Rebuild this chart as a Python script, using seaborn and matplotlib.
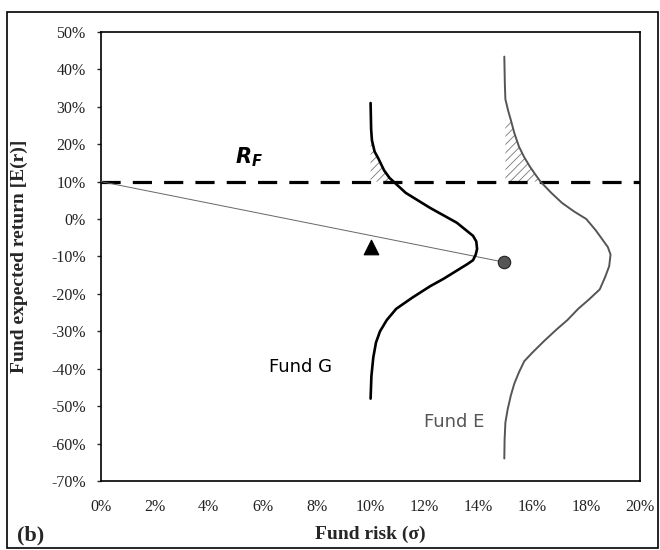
import numpy as np
import matplotlib
matplotlib.use("Agg")
import matplotlib.pyplot as plt
import matplotlib.patches as patches
import seaborn as sns
import pandas as pd

sns.set_style("white")
plt.rcParams['font.family'] = ['Liberation Serif', 'DejaVu Serif']
plt.rcParams['mathtext.fontset'] = 'custom'
plt.rcParams['mathtext.it'] = 'DejaVu Sans:italic:bold'
plt.rcParams['mathtext.rm'] = 'DejaVu Sans:bold'
plt.rcParams['hatch.linewidth'] = 0.6

#=======================================================================
#                                  Data (in %)
#=======================================================================
rf = 10.0

# Fund G distribution (return on y, risk on x)
g_ret  = [31, 24, 21, 18, 16, 13, 11, 10, 7, 3, -1, -4.5, -6, -8, -9.5, -11, -12,
          -16, -18, -21, -24, -27, -30, -33, -37, -42, -48]
g_risk = [10.0, 10.02, 10.05, 10.15, 10.3, 10.5, 10.7, 10.85, 11.3, 12.2, 13.2, 13.8,
          13.92, 13.95, 13.9, 13.8, 13.6, 12.7, 12.2, 11.55, 10.95, 10.6, 10.35, 10.2,
          10.1, 10.03, 10.0]
g_base = 10.0
g_hatch_top = 21

# Fund E distribution
e_ret  = [43.4, 36, 32, 29, 26.5, 23, 19.4, 16.5, 14.1, 12, 10, 7, 4.3, 2, 0, -3,
          -5.5, -7.5, -9.5, -12.6, -15.5, -18.8, -21.5, -24, -27, -29.5, -32.5,
          -35.7, -38, -41, -44, -47.2, -51, -54.4, -59, -64]
e_risk = [14.96, 14.98, 15.0, 15.1, 15.2, 15.33, 15.5, 15.7, 15.9, 16.1, 16.3, 16.7,
          17.1, 17.55, 18.0, 18.35, 18.6, 18.8, 18.9, 18.85, 18.7, 18.5, 18.1, 17.7,
          17.3, 16.9, 16.45, 16.0, 15.7, 15.5, 15.33, 15.2, 15.08, 15.0, 14.97, 14.96]
e_base = 15.0
e_hatch_top = 27

# line from risk-free rate to fund E point, plus markers
cal_risk = [0, 14.93]
cal_ret  = [10, -11.5]
tri_risk = [10.0]
tri_ret  = [-7.6]

y_ticks = list(range(-70, 51, 10))
x_ticks = list(range(0, 21, 2))

g_df = pd.DataFrame({'risk': g_risk, 'ret': g_ret})
e_df = pd.DataFrame({'risk': e_risk, 'ret': e_ret})

#=======================================================================
#                                  Plot
#=======================================================================
fig = plt.figure(figsize=(6.6, 5.5), dpi=100)
ax = fig.add_axes([0.153, 0.1255, 0.817, 0.8165])

# risk-free dashed line
ax.axhline(rf, color='k', lw=2.3, dashes=(6, 3.8), zorder=2)

# capital line
sns.lineplot(x=cal_risk, y=cal_ret, ax=ax, color='#666666', lw=0.7, sort=False, zorder=3)

# distributions
sns.lineplot(data=g_df, x='risk', y='ret', ax=ax, color='k', lw=1.9, sort=False,
             estimator=None, zorder=4)
sns.lineplot(data=e_df, x='risk', y='ret', ax=ax, color='#555555', lw=1.4, sort=False,
             estimator=None, zorder=4)

# hatched tails above R_F
gy, gx = np.array(g_ret), np.array(g_risk)
ey, ex = np.array(e_ret), np.array(e_risk)
ax.fill_betweenx(gy, g_base, gx, where=(gy >= rf) & (gy <= g_hatch_top),
                 facecolor='none', edgecolor='#777777', hatch='////', lw=0, zorder=1)
ax.fill_betweenx(ey, e_base, ex, where=(ey >= rf) & (ey <= e_hatch_top),
                 facecolor='none', edgecolor='#777777', hatch='////', lw=0, zorder=1)

# markers
sns.scatterplot(x=tri_risk, y=tri_ret, ax=ax, marker='^', s=110, color='k',
                edgecolor='k', zorder=5)
sns.scatterplot(x=cal_risk[1:], y=cal_ret[1:], ax=ax, marker='o', s=80, color='#555555',
                edgecolor='#222222', linewidth=0.8, zorder=5)

# text labels
ax.text(5.5, 16.4, r'$R_{F}$', fontsize=15, ha='center', va='center', color='k')
ax.text(7.4, -39.6, 'Fund G', fontsize=13, family='DejaVu Sans', ha='center',
        va='center', color='k')
ax.text(13.1, -54.3, 'Fund E', fontsize=13, family='DejaVu Sans', ha='center',
        va='center', color='#555555')

#Axis labels and ticks
ax.set_xlim(0, 20)
ax.set_ylim(-70, 50)
ax.set_xticks(x_ticks)
ax.set_yticks(y_ticks)
ax.set_xticklabels(['%d%%' % t for t in x_ticks])
ax.set_yticklabels(['%d%%' % t for t in y_ticks])
ax.tick_params(axis='x', length=0, pad=13, labelsize=11.5, labelcolor='#222222')
ax.tick_params(axis='y', length=3, width=1, direction='out', pad=8, labelsize=11.5,
               labelcolor='#222222', left=True)
ax.set_xlabel('Fund risk (σ)', fontsize=14, fontweight='bold', labelpad=8)
ax.set_ylabel('Fund expected return [E(r)]', fontsize=14, fontweight='bold')
ax.yaxis.set_label_coords(-0.135, 0.5)
for spine in ax.spines.values():
    spine.set_linewidth(1.2)
    spine.set_color('k')

# (b) panel tag and outer frame
fig.text(0.026, 0.0255, '(b)', fontsize=16, fontweight='bold', ha='left', va='center')
frame = patches.Rectangle((0.0106, 0.003), 0.9864, 0.975, transform=fig.transFigure,
                          fill=False, lw=1.2, edgecolor='k')
fig.add_artist(frame)

plt.savefig("out.png", dpi=100)
